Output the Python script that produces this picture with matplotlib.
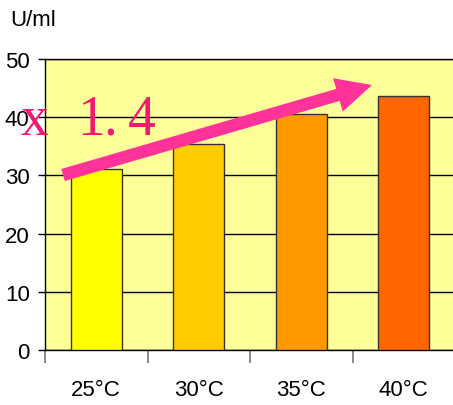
import matplotlib
matplotlib.use("Agg")
import matplotlib.pyplot as plt

categories = ["25°C", "30°C", "35°C", "40°C"]
values = [31.1, 35.4, 40.5, 43.6]
bar_colors = ["#FFFF00", "#FFCC00", "#FF9900", "#FF6600"]
yticks = [0, 10, 20, 30, 40, 50]

plt.rcParams['font.family'] = ['Liberation Sans', 'DejaVu Sans']

fig = plt.figure(figsize=(4.53, 4.06), dpi=100)
ax = fig.add_axes([45/453, 55/406, 410/453, 291/406])
ax.set_facecolor("#FFFF99")

x = list(range(len(categories)))
ax.bar(x, values, width=0.5, color=bar_colors, edgecolor="#333333", linewidth=1.0, zorder=3)

ax.set_xlim(-0.5, 3.5)
ax.set_ylim(0, 50)
ax.set_yticks(yticks)
ax.set_yticklabels([str(v) for v in yticks], fontsize=16)
ax.yaxis.grid(True, color="black", linewidth=1.0, zorder=1)
ax.set_axisbelow(True)
ax.tick_params(axis='y', length=5, width=1, pad=6, direction='out')

ax.set_xticks([-0.5, 0.5, 1.5, 2.5])
ax.set_xticklabels([])
ax.set_xticks(x, minor=True)
ax.set_xticklabels(categories, minor=True, fontsize=16)
ax.tick_params(axis='x', which='major', length=9, width=1.2, color="#777777", direction='out')
ax.tick_params(axis='x', which='minor', length=0, pad=21)

for s in ["left", "bottom", "top"]:
    ax.spines[s].set_color("black")
    ax.spines[s].set_linewidth(1.0)
ax.spines["right"].set_visible(False)

fig.text(10/453, 1 - 20/406, "U/ml", fontsize=16, va="center", ha="left")

# trend arrow (data coordinates of tail and tip)
arrow_start = (-0.324, 30.07)
arrow_end = (2.69, 45.53)
ax.annotate("", xy=arrow_end, xytext=arrow_start,
            arrowprops=dict(arrowstyle="simple,head_length=1.02,head_width=1.0,tail_width=0.36",
                            mutation_scale=25, color="#FF3399", lw=0,
                            shrinkA=0, shrinkB=0),
            zorder=5, annotation_clip=False)

serif = ['Liberation Serif', 'DejaVu Serif']
pink = "#EE1C70"
for ch, xp in [("x", -0.602), ("1", -0.056), (".", 0.14), ("4", 0.441)]:
    ax.text(xp, 37.1, ch, fontsize=40, color=pink, family=serif,
            ha="center", va="baseline", zorder=6)

fig.savefig("out.png", dpi=100)
